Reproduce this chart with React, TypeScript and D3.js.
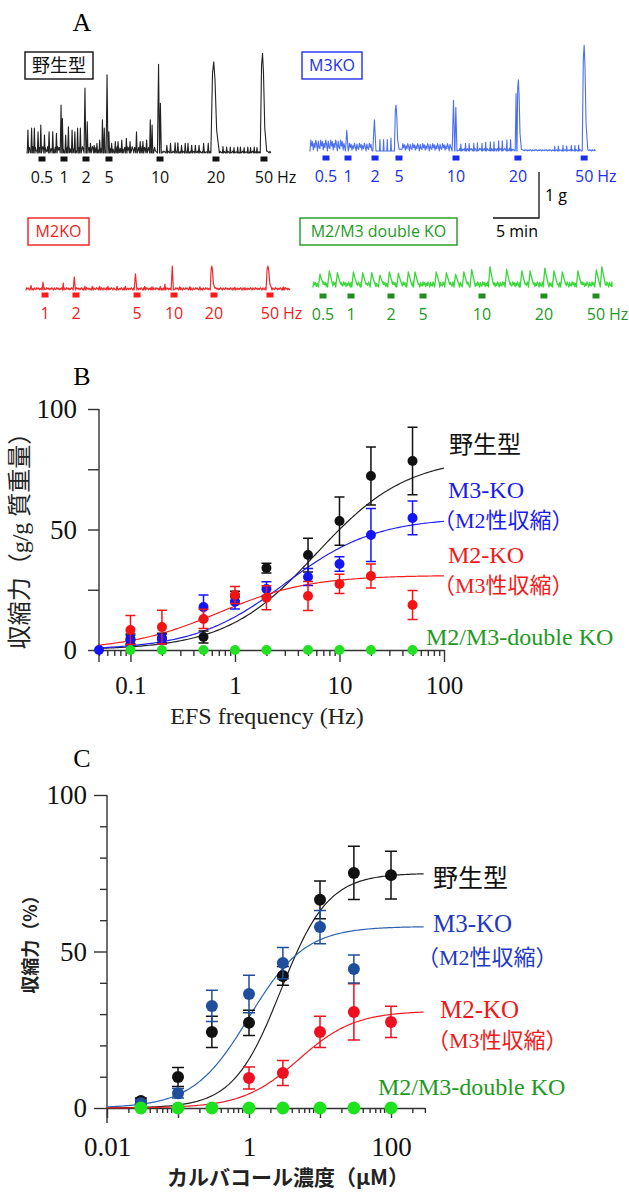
import { useEffect, useRef } from "react";
import * as d3 from "d3";

// ---------- Panel A : isometric tension traces ----------
// events: [time (min), peak above baseline (g), width (min)]
const wtEvents = [
  [0.1, 0.5, 0.15], [0.5, 0.54, 0.15], [0.8, 0.54, 0.15], [1.2, 0.46, 0.15], [1.5, 0.61, 0.15],
  [1.9, 0.39, 0.15], [2.4, 0.46, 0.15], [2.8, 0.46, 0.15], [3.2, 0.43, 0.15], [3.7, 1.04, 0.18],
  [3.85, 0.75, 0.15], [4.2, 0.39, 0.15], [4.5, 0.57, 0.15], [4.9, 0.5, 0.15], [5.2, 0.46, 0.15],
  [5.5, 0.54, 0.15], [5.8, 0.54, 0.15], [6.3, 1.41, 0.2], [6.55, 0.68, 0.15], [6.9, 0.21, 0.15],
  [7.3, 0.17, 0.15], [7.6, 0.21, 0.15], [7.9, 0.28, 0.15], [8.2, 0.72, 0.15], [8.4, 0.54, 0.15],
  [8.7, 1.7, 0.2], [8.9, 0.46, 0.15], [9.2, 0.21, 0.15], [9.6, 0.25, 0.15], [9.9, 0.25, 0.15],
  [10.3, 0.28, 0.15], [10.8, 0.32, 0.15], [11.2, 0.25, 0.15], [11.9, 0.46, 0.15], [12.3, 0.25, 0.15],
  [12.6, 0.25, 0.15], [13.0, 0.28, 0.15], [13.4, 0.72, 0.15], [13.6, 0.61, 0.15], [14.3, 1.93, 0.25],
  [14.5, 1.08, 0.2], [15.2, 0.17, 0.15], [15.6, 0.21, 0.15], [16.1, 0.22, 0.15], [16.4, 0.22, 0.15],
  [16.8, 0.17, 0.15], [17.2, 0.21, 0.15], [17.5, 0.21, 0.15], [17.9, 0.17, 0.15], [18.3, 0.17, 0.15],
  [18.7, 0.17, 0.15], [19.2, 0.21, 0.15], [19.7, 0.21, 0.15], [20.3, 1.98, 0.9], [21.3, 0.14, 0.12],
  [21.7, 0.13, 0.12], [22.1, 0.13, 0.12], [22.5, 0.12, 0.12], [22.9, 0.13, 0.12], [23.2, 0.13, 0.12],
  [23.6, 0.12, 0.12], [24.0, 0.13, 0.12], [24.3, 0.12, 0.12], [24.7, 0.13, 0.12], [25.0, 0.12, 0.12],
  [25.6, 2.17, 0.7],
];
const wtNoise = [[0, 14, 0.14], [14.7, 26.4, 0.04]];
const wtStim = [1.63, 4.02, 6.41, 8.91, 14.46, 20.54, 25.76];
const wtFreq = ["0.5", "1", "2", "5", "10", "20", "50"];

const m3Events = [
  [4.0, 0.45, 0.3], [7.0, 0.68, 0.35], [7.6, 0.25, 0.1], [8.0, 0.25, 0.1], [8.4, 0.25, 0.1],
  [8.8, 0.28, 0.1], [9.35, 1.0, 0.5], [15.6, 1.1, 0.3], [15.85, 0.95, 0.25], [16.4, 0.15, 0.1],
  [16.9, 0.17, 0.1], [17.3, 0.16, 0.1], [17.8, 0.17, 0.1], [18.2, 0.18, 0.1], [18.7, 0.17, 0.1],
  [19.1, 0.19, 0.1], [19.6, 0.2, 0.1], [20.0, 0.2, 0.1], [20.5, 0.22, 0.1], [20.9, 0.22, 0.1],
  [21.4, 0.24, 0.1], [21.8, 0.25, 0.1], [22.4, 1.25, 0.2], [22.65, 1.55, 0.5], [26.6, 0.1, 0.1],
  [27.0, 0.11, 0.1], [27.5, 0.12, 0.1], [27.9, 0.11, 0.1], [28.4, 0.12, 0.1], [28.8, 0.12, 0.1],
  [29.2, 0.13, 0.1], [29.8, 2.3, 0.6],
];
const m3Noise = [[0, 3.8, 0.24], [4.2, 6.8, 0.17], [10.0, 15.3, 0.16], [16.2, 22.1, 0.06], [23.3, 31, 0.03]];
const m3Stim = [1.74, 4.13, 7.07, 9.67, 15.87, 22.6, 29.8];
const m3Freq = ["0.5", "1", "2", "5", "10", "20", "50"];

const m2Events = [
  [0.54, 0.1, 0.2], [1.85, 0.17, 0.2], [4.05, 0.15, 0.15], [5.25, 0.28, 0.25], [6.4, 0.08, 0.2],
  [7.2, 0.08, 0.2], [8.0, 0.08, 0.2], [8.9, 0.08, 0.2], [9.9, 0.08, 0.2], [10.8, 0.08, 0.2],
  [11.9, 0.35, 0.3], [12.9, 0.08, 0.2], [13.7, 0.07, 0.2], [14.6, 0.08, 0.2], [15.1, 0.13, 0.15],
  [15.9, 0.52, 0.25], [16.7, 0.07, 0.2], [17.8, 0.07, 0.2], [18.9, 0.07, 0.2], [20.2, 0.52, 0.5],
  [22.7, 0.06, 0.2], [23.8, 0.05, 0.2], [26.3, 0.52, 0.6], [28.0, 0.07, 0.15],
];
const m2Noise = [[0, 28.7, 0.05]];
const m2Stim = [2.07, 5.43, 12.07, 16.09, 20.43, 26.52];
const m2Freq = ["1", "2", "5", "10", "20", "50"];

const dkoEvents = [
  [0.76, 0.28, 0.6], [1.77, 0.35, 0.6], [2.65, 0.31, 0.6], [4.39, 0.33, 0.6], [5.4, 0.31, 0.6],
  [6.38, 0.31, 0.6], [7.28, 0.26, 0.6], [8.3, 0.33, 0.6], [9.28, 0.3, 0.6], [10.36, 0.33, 0.6],
  [11.09, 0.33, 0.6], [13.4, 0.33, 0.6], [14.5, 0.31, 0.6], [15.5, 0.28, 0.6], [16.4, 0.33, 0.6],
  [17.25, 0.38, 0.6], [19.24, 0.44, 0.6], [21.05, 0.38, 0.6], [22.7, 0.35, 0.6], [23.6, 0.35, 0.6],
  [25.2, 0.41, 0.6], [26.2, 0.35, 0.6], [27.1, 0.33, 0.6], [28.8, 0.35, 0.6], [30.8, 0.37, 0.6],
  [31.4, 0.44, 0.6],
];
const dkoNoise = [[0, 32.5, 0.11]];
const dkoStim = [1.09, 4.13, 8.48, 11.96, 18.37, 25.1, 30.76];
const dkoFreq = ["0.5", "1", "2", "5", "10", "20", "50"];

const noisePattern = [0.2, 1, 0.45, 0.85, 0.1, 0.7, 0.3, 1, 0.6, 0, 0.9, 0.35];

// ---------- Panel B : EFS frequency-response ----------
const efsFreq = [0.05, 0.1, 0.2, 0.5, 1, 2, 5, 10, 20, 50];
const wtB = [NaN, 4.6, 5, 5.4, 22.4, 34, 39.4, 53.5, 72.2, 78.4];
const wtBErr = [0, 2, 2, 2.5, 2, 2, 7, 10, 12, 14];
const m3B = [0, 4, 4.5, 17.8, 20, 25.3, 30.3, 35.7, 47.7, 54.8];
const m3BErr = [0, 2, 2, 5, 3, 3, 3.5, 3, 11, 7];
const m2B = [NaN, 8.3, 9.5, 12.9, 22.8, 21.7, 22.4, 27.4, 30.7, 18.7];
const m2BErr = [0, 6, 7, 4, 3.5, 5, 6, 4, 5, 6];
const dkoB = [NaN, 0, 0, 0, 0, 0, 0, 0, 0, 0];
// fitted curves: [top, EC50, Hill slope]
const wtBFit = [80, 6, 1];
const m3BFit = [55, 3, 1];
const m2BFit = [31, 0.7, 1];

// ---------- Panel C : carbachol concentration-response ----------
const cch = [0.03, 0.1, 0.3, 1, 3, 10, 30, 100];
const wtC = [2.2, 9.9, 24.3, 27.2, 42.2, 66.5, 75.1, 74.4];
const wtCErr = [1, 3, 5, 4, 3, 6, 8.5, 7.6];
const m3C = [1.5, 4.7, 32.6, 36.4, 46.3, 57.8, 44.4, NaN];
const m3CErr = [1, 1.5, 5, 6, 5, 5.3, 4.5, 0];
const m2C = [NaN, NaN, NaN, 9.6, 11.2, 24.3, 30.7, 27.5];
const m2CErr = [0, 0, 0, 3.5, 4, 5, 9, 5];
const dkoC = [0, 0, 0, 0, 0, 0, 0, 0];
const wtCFit = [75, 2.8, 1.3];
const m3CFit = [58, 1, 1.1];
const m2CFit = [31, 5, 1.1];

const SERIF = "'Liberation Serif', 'Noto Sans CJK JP', serif";
const SANS = "'Open Sans', 'Noto Sans CJK JP', sans-serif";
const CJK = "'Noto Sans CJK JP', sans-serif";

function hill(p: number[], x: number) {
  return p[0] / (1 + Math.pow(p[1] / x, p[2]));
}

function tracePath(events: number[][], noise: number[][], dur: number, x: any, y: any, wave: boolean) {
  const pts: number[][] = [];
  const spans: number[][] = [];
  events.forEach(([t, h, w]) => {
    let v: number[][];
    if (wave) v = [[t - w * 0.3, 0], [t, h], [t + w * 0.2, h * 0.7], [t + w * 0.6, 0.06]];
    else if (w >= 0.5) v = [[t - w * 0.35, 0], [t - w * 0.15, h * 0.88], [t, h], [t + w * 0.15, h * 0.8], [t + w * 0.35, h * 0.25], [t + w * 0.65, 0.04]];
    else v = [[t - w / 2, 0], [t, h], [t + w / 2, 0]];
    spans.push([v[0][0], v[v.length - 1][0]]);
    pts.push(...v);
  });
  noise.forEach(([a, b, amp]) => {
    let k = 0;
    for (let t = a; t <= b; t += 0.09, k++) {
      if (spans.some(([s, e]) => t >= s && t <= e)) continue;
      pts.push([t, amp * noisePattern[k % noisePattern.length]]);
    }
  });
  pts.push([0, 0], [dur, 0]);
  pts.sort((p, q) => p[0] - q[0]);
  return d3.line<number[]>().x(d => x(d[0])).y(d => y(d[1]))(pts);
}

function App() {
  const ref = useRef<SVGSVGElement>(null);

  useEffect(() => {
    const svg = d3.select(ref.current);
    svg.selectAll("*").remove();

    // panel letters
    [["A", 31], ["B", 385], ["C", 767]].forEach(([t, y]) => {
      svg.append("text").attr("x", 82).attr("y", y).attr("text-anchor", "middle")
        .style("font-family", SERIF).style("font-size", "26px").text(t as string);
    });

    // ---------------- Panel A ----------------
    const traces = [
      { name: "野生型", events: wtEvents, noise: wtNoise, dur: 26.5, stim: wtStim, freq: wtFreq, x0: 27, y0: 153, my: 159, color: "#222", mark: "#111", text: "#111", box: [25, 52, 68], font: CJK, wave: false, sw: 1.1 },
      { name: "M3KO", events: m3Events, noise: m3Noise, dur: 31, stim: m3Stim, freq: m3Freq, x0: 310, y0: 151, my: 158, color: "#4a6ff2", mark: "#1a2cf0", text: "#2030ea", box: [302, 52, 60], font: SANS, wave: false, sw: 1.1 },
      { name: "M2KO", events: m2Events, noise: m2Noise, dur: 28.7, stim: m2Stim, freq: m2Freq, x0: 26, y0: 290, my: 295, color: "#f02a2a", mark: "#ff1a1a", text: "#f01c1c", box: [28, 218, 61], font: SANS, wave: false, sw: 1.2 },
      { name: "M2/M3 double KO", events: dkoEvents, noise: dkoNoise, dur: 32.5, stim: dkoStim, freq: dkoFreq, x0: 313, y0: 287, my: 296, color: "#38d838", mark: "#1f8f1f", text: "#1f9a1f", box: [300, 218, 157], font: SANS, wave: true, sw: 1.3 },
    ];
    const pxPerMin = 9.2;
    const pxPerG = 46;

    traces.forEach(tr => {
      const x = d3.scaleLinear().domain([0, 1]).range([tr.x0, tr.x0 + pxPerMin]);
      const y = d3.scaleLinear().domain([0, 1]).range([tr.y0, tr.y0 - pxPerG]);
      const g = svg.append("g");
      const [bx, by, bw] = tr.box;
      g.append("rect").attr("x", bx).attr("y", by).attr("width", bw).attr("height", 27)
        .attr("fill", "white").attr("stroke", tr.text).attr("stroke-width", 1.4);
      g.append("text").attr("x", bx + bw / 2).attr("y", by + 13.5).attr("dy", "0.35em")
        .attr("text-anchor", "middle").attr("fill", tr.text)
        .style("font-family", tr.font).style("font-size", tr.font === CJK ? "18px" : "16px").text(tr.name);

      g.append("path").attr("d", tracePath(tr.events, tr.noise, tr.dur, x, y, tr.wave))
        .attr("fill", "none").attr("stroke", tr.color).attr("stroke-width", tr.sw).attr("stroke-linejoin", "round");

      g.selectAll(".mk").data(tr.stim).join("rect").attr("class", "mk")
        .attr("x", d => x(d) - 3.5).attr("y", tr.my - 2.5).attr("width", 7).attr("height", 5).attr("fill", tr.mark);
      g.selectAll(".fl").data(tr.freq).join("text").attr("class", "fl")
        .attr("x", (d, i) => x(tr.stim[i])).attr("y", tr.my + 18).attr("dy", "0.35em")
        .attr("text-anchor", "middle").attr("fill", tr.text)
        .style("font-family", SANS).style("font-size", "16px").text(d => d);
      g.append("text").attr("x", x(tr.stim[tr.stim.length - 1]) + 13).attr("y", tr.my + 18).attr("dy", "0.35em")
        .attr("fill", tr.text).style("font-family", SANS).style("font-size", "16px").text("Hz");
    });

    // scale bar (5 min, 1 g)
    const sbx = d3.scaleLinear().domain([0, 5]).range([493, 493 + 5 * pxPerMin]);
    const sby = d3.scaleLinear().domain([0, 1]).range([218, 218 - pxPerG]);
    svg.append("path").attr("d", `M${sbx(0)},${sby(0)}H${sbx(5)}V${sby(1)}`)
      .attr("fill", "none").attr("stroke", "#111").attr("stroke-width", 1.3);
    svg.append("text").attr("x", sbx(5) + 6).attr("y", sby(0.5)).attr("dy", "0.35em")
      .style("font-family", SANS).style("font-size", "16px").text("1 g");
    svg.append("text").attr("x", sbx(0) + 3).attr("y", sby(0) + 13).attr("dy", "0.35em")
      .style("font-family", SANS).style("font-size", "16px").text("5 min");

    // ---------------- helpers for B and C ----------------
    const axisStyle = (g: any, size: number) => {
      g.selectAll("line").attr("stroke", "#333").attr("stroke-width", 1.4);
      g.selectAll(".domain").attr("stroke", "#333").attr("stroke-width", 1.4);
      g.selectAll("text").style("font-family", SERIF).style("font-size", size + "px").attr("fill", "#111");
    };

    const drawSeries = (x: any, y: any, xs: number[], vals: number[], errs: number[], color: string, r: number, cap: number) => {
      const g = svg.append("g");
      xs.forEach((xv, i) => {
        const v = vals[i];
        if (isNaN(v)) return;
        const e = errs[i];
        if (e > 0) {
          g.append("path")
            .attr("d", `M${x(xv)},${y(v - e)}V${y(v + e)}M${x(xv) - cap / 2},${y(v + e)}h${cap}M${x(xv) - cap / 2},${y(v - e)}h${cap}`)
            .attr("stroke", color).attr("stroke-width", 1.5).attr("fill", "none");
        }
        g.append("circle").attr("cx", x(xv)).attr("cy", y(v)).attr("r", r).attr("fill", color);
      });
    };

    const drawFit = (x: any, y: any, p: number[], lo: number, hi: number, color: string) => {
      const xs = d3.range(Math.log10(lo), Math.log10(hi) + 0.001, 0.02).map(l => Math.pow(10, l));
      svg.append("path").attr("d", d3.line<number>().x(d => x(d)).y(d => y(hill(p, d)))(xs))
        .attr("fill", "none").attr("stroke", color).attr("stroke-width", 1.2);
    };

    const minorTicks = (lo: number, hi: number) => {
      const out: number[] = [];
      for (let dec = Math.floor(Math.log10(lo)); dec <= Math.ceil(Math.log10(hi)); dec++) {
        for (let k = 2; k <= 9; k++) {
          const v = k * Math.pow(10, dec);
          if (v >= lo - 1e-9 && v <= hi + 1e-9) out.push(v);
        }
      }
      return out;
    };

    const label = (x: number, y: number, text: string, color: string, size: number, family = SERIF, anchor = "start") => {
      svg.append("text").attr("x", x).attr("y", y).attr("dy", "0.35em").attr("text-anchor", anchor)
        .attr("fill", color).style("font-family", family).style("font-size", size + "px").text(text);
    };

    // ---------------- Panel B ----------------
    const xB = d3.scaleLog().domain([0.05, 100]).range([99, 444]);
    const yB = d3.scaleLinear().domain([0, 100]).range([650, 409]);

    const gyB = svg.append("g").attr("transform", `translate(${xB(0.05)},0)`)
      .call(d3.axisLeft(yB).tickValues([0, 25, 50, 75, 100]).tickSize(11).tickSizeOuter(0).tickPadding(11)
        .tickFormat((d: any) => (d % 50 === 0 ? String(d) : "")));
    gyB.select(".domain").remove();
    axisStyle(gyB, 27);
    svg.append("line").attr("x1", xB(0.05)).attr("x2", xB(0.05)).attr("y1", yB(100)).attr("y2", yB(0) + 12)
      .attr("stroke", "#333").attr("stroke-width", 1.4);

    const gxBm = svg.append("g").attr("transform", `translate(0,${yB(0)})`)
      .call(d3.axisBottom(xB).tickValues(minorTicks(0.05, 100)).tickSize(6).tickSizeOuter(0).tickFormat(() => ""));
    gxBm.select(".domain").remove();
    axisStyle(gxBm, 24);
    const gxB = svg.append("g").attr("transform", `translate(0,${yB(0)})`)
      .call(d3.axisBottom(xB).tickValues([0.1, 1, 10, 100]).tickSize(12).tickSizeOuter(0).tickPadding(14)
        .tickFormat((d: any) => d3.format("~g")(d)));
    axisStyle(gxB, 25);

    drawFit(xB, yB, wtBFit, 0.05, 100, "#222");
    drawFit(xB, yB, m3BFit, 0.05, 100, "#2020f0");
    drawFit(xB, yB, m2BFit, 0.05, 100, "#f02020");
    drawSeries(xB, yB, efsFreq, wtB, wtBErr, "#111", 5, 10);
    drawSeries(xB, yB, efsFreq, m3B, m3BErr, "#1414f5", 5, 10);
    drawSeries(xB, yB, efsFreq, m2B, m2BErr, "#f21414", 5, 10);
    drawSeries(xB, yB, efsFreq, dkoB, m2BErr.map(() => 0), "#22e022", 5, 10);

    label(449, 445, "野生型", "#111", 24, CJK);
    label(448, 490, "M3-KO", "#1a1af0", 24);
    label(433, 520, "（M2性収縮）", "#1a1af0", 22);
    label(448, 555, "M2-KO", "#f01a1a", 24);
    label(433, 585, "（M3性収縮）", "#f01a1a", 22);
    label(426, 637, "M2/M3-double KO", "#1f9a1f", 24);

    label(267, 716, "EFS frequency (Hz)", "#222", 24, SERIF, "middle");
    svg.append("text").attr("transform", `translate(20,535) rotate(-90)`).attr("dy", "0.35em")
      .attr("text-anchor", "middle").attr("fill", "#222")
      .style("font-family", SERIF).style("font-size", "24px").text("収縮力（g/g 質重量）");

    // ---------------- Panel C ----------------
    const xC = d3.scaleLog().domain([0.01, 300]).range([107, 107 + Math.log10(30000) * 71]);
    const yC = d3.scaleLinear().domain([0, 100]).range([1108, 795]);

    const gyCm = svg.append("g").attr("transform", `translate(${xC(0.01)},0)`)
      .call(d3.axisLeft(yC).tickValues(d3.range(10, 100, 10).filter(v => v !== 50)).tickSize(7).tickSizeOuter(0).tickFormat(() => ""));
    gyCm.select(".domain").remove();
    axisStyle(gyCm, 26);
    const gyC = svg.append("g").attr("transform", `translate(${xC(0.01)},0)`)
      .call(d3.axisLeft(yC).tickValues([0, 50, 100]).tickSize(13).tickSizeOuter(0).tickPadding(7));
    gyC.select(".domain").remove();
    axisStyle(gyC, 27);
    svg.append("line").attr("x1", xC(0.01)).attr("x2", xC(0.01)).attr("y1", yC(100)).attr("y2", yC(0) + 15)
      .attr("stroke", "#333").attr("stroke-width", 1.4);

    const gxCm = svg.append("g").attr("transform", `translate(0,${yC(0)})`)
      .call(d3.axisBottom(xC).tickValues(minorTicks(0.01, 300)).tickSize(5).tickSizeOuter(0).tickFormat(() => ""));
    gxCm.select(".domain").remove();
    axisStyle(gxCm, 26);
    const gxC = svg.append("g").attr("transform", `translate(0,${yC(0)})`)
      .call(d3.axisBottom(xC).tickValues([0.01, 0.1, 1, 10, 100]).tickSize(10).tickSizeOuter(0).tickPadding(19)
        .tickFormat((d: any) => ([0.01, 1, 100].includes(d) ? d3.format("~g")(d) : "")));
    axisStyle(gxC, 27);

    drawFit(xC, yC, wtCFit, 0.01, 300, "#222");
    drawFit(xC, yC, m3CFit, 0.01, 300, "#2e62b0");
    drawFit(xC, yC, m2CFit, 0.01, 300, "#ec1c24");
    drawSeries(xC, yC, cch, wtC, wtCErr, "#111", 6, 12);
    drawSeries(xC, yC, cch, m2C, m2CErr, "#ec1020", 6, 12);
    drawSeries(xC, yC, cch, m3C, m3CErr, "#1f4f9c", 6, 12);
    drawSeries(xC, yC, cch, dkoC, dkoC.map(() => 0), "#1de21d", 6.5, 12);

    label(433, 878, "野生型", "#111", 25, CJK);
    label(433, 923, "M3-KO", "#2238c0", 25);
    label(417, 957, "（M2性収縮）", "#2238c0", 22);
    label(440, 1009, "M2-KO", "#ee1a1a", 25);
    label(427, 1040, "（M3性収縮）", "#ee1a1a", 22);
    label(378, 1087, "M2/M3-double KO", "#1f9a1f", 24);

    svg.append("text").attr("x", 288).attr("y", 1178).attr("dy", "0.35em").attr("text-anchor", "middle")
      .attr("fill", "#222").style("font-family", CJK).style("font-size", "21px").style("font-weight", "bold")
      .text("カルバコール濃度（μM）");
    svg.append("text").attr("transform", `translate(31,940) rotate(-90)`).attr("dy", "0.35em")
      .attr("text-anchor", "middle").attr("fill", "#222")
      .style("font-family", CJK).style("font-size", "18px").style("font-weight", "bold").text("収縮力（%）");
  }, []);

  return (
    <svg ref={ref} width={629} height={1194}
      style={{ position: "absolute", left: 0, top: 0, background: "white" }} />
  );
}

export default App;
